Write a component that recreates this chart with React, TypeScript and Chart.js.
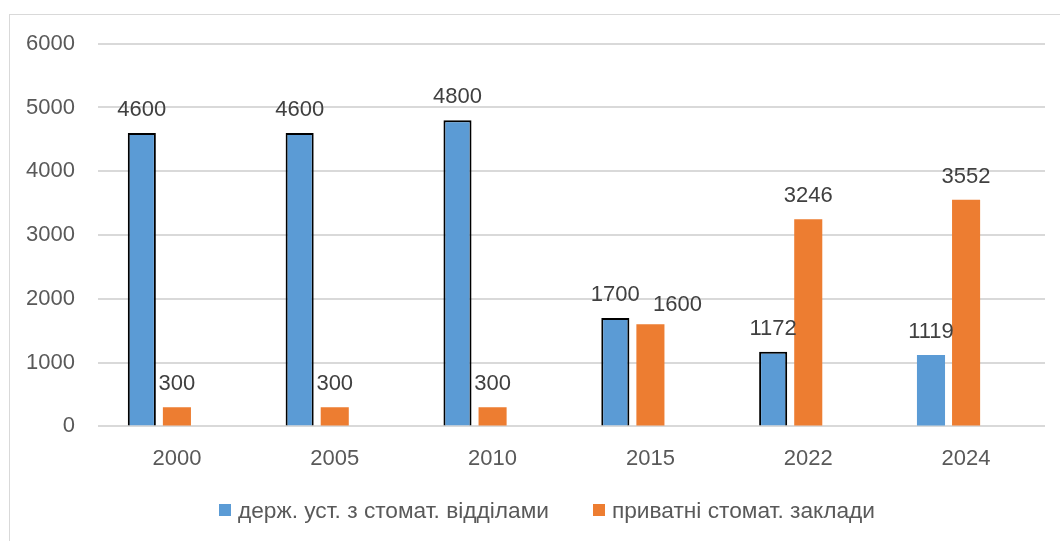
import React, { useEffect, useRef } from "react";
import { Chart, registerables } from "chart.js";

Chart.register(...registerables);

const categories = ["2000", "2005", "2010", "2015", "2022", "2024"];
const stateValues = [4600, 4600, 4800, 1700, 1172, 1119];
const privateValues = [300, 300, 300, 1600, 3246, 3552];
const emptySeries = [null, null, null, null, null, null];
const stateBorderWidths = [2, 2, 2, 2, 2, 0];
const seriesNames = ["держ. уст. з стомат. відділами", "приватні стомат. заклади"];
const seriesColors = ["#5B9BD5", "#ED7D31"];
const yMin = 0;
const yMax = 6000;
const yStep = 1000;

const FONT = "'Liberation Sans', Arial, sans-serif";
const FONT_SIZE = 22;

// label nudges (dataset index, category index) -> [dx, dy] in px, to avoid overlap
const labelNudges: Record<string, [number, number]> = { "1-3": [27, 4] };

const valueLabels = {
  id: "valueLabels",
  afterDatasetsDraw(chart: any) {
    const ctx = chart.ctx;
    ctx.save();
    ctx.font = `${FONT_SIZE}px ${FONT}`;
    ctx.fillStyle = "#404040";
    ctx.textAlign = "center";
    ctx.textBaseline = "alphabetic";
    [0, 1].forEach((di) => {
      const meta = chart.getDatasetMeta(di);
      const ds = chart.data.datasets[di];
      meta.data.forEach((el: any, i: number) => {
        const v = ds.data[i];
        if (v == null) return;
        const [dx, dy] = labelNudges[`${di}-${i}`] || [0, 0];
        ctx.fillText(String(v), el.x + dx, el.y - 17 + dy);
      });
    });
    ctx.restore();
  },
};

export default function App() {
  const ref = useRef<HTMLCanvasElement | null>(null);

  useEffect(() => {
    if (!ref.current) return;
    const chart = new Chart(ref.current, {
      type: "bar",
      data: {
        labels: categories,
        datasets: [
          {
            label: seriesNames[0],
            data: stateValues,
            backgroundColor: seriesColors[0],
            borderColor: "#000000",
            borderWidth: stateBorderWidths,
            borderSkipped: "start",
          },
          {
            label: seriesNames[1],
            data: privateValues,
            backgroundColor: seriesColors[1],
            borderWidth: 0,
          },
          {
            label: "",
            data: emptySeries as any,
            backgroundColor: "rgba(0,0,0,0)",
          },
        ],
      },
      options: {
        responsive: false,
        animation: false,
        devicePixelRatio: 1,
        datasets: {
          bar: {
            categoryPercentage: 0.667,
            barPercentage: 0.8,
          },
        },
        layout: {
          padding: { left: 0, right: 15, top: 43.7, bottom: 57.2 },
        },
        plugins: {
          legend: { display: false },
          tooltip: { enabled: false },
        },
        scales: {
          x: {
            grid: { display: false },
            border: { display: false },
            ticks: {
              color: "#595959",
              font: { family: FONT, size: FONT_SIZE },
              padding: 11.5,
              maxRotation: 0,
            },
          },
          y: {
            min: yMin,
            max: yMax,
            afterFit(scale: any) {
              scale.width = 98;
            },
            grid: {
              color: "#d9d9d9",
              lineWidth: 2,
              drawTicks: false,
            },
            border: { display: false },
            ticks: {
              stepSize: yStep,
              color: "#595959",
              font: { family: FONT, size: FONT_SIZE },
              padding: 23,
              callback: (v: any) => String(v),
            },
          },
        },
      },
      plugins: [valueLabels],
    });
    return () => chart.destroy();
  }, []);

  return (
    <div
      style={{
        position: "fixed",
        left: 0,
        top: 0,
        width: 1060,
        height: 541,
        overflow: "hidden",
        background: "#ffffff",
      }}
    >
      <div
        style={{
          position: "absolute",
          left: 9,
          top: 14,
          width: 1200,
          height: 700,
          border: "1.5px solid #d9d9d9",
        }}
      />
      <canvas
        ref={ref}
        width={1060}
        height={541}
        style={{ position: "absolute", left: 0, top: 0, width: 1060, height: 541 }}
      />
      <div
        style={{
          position: "absolute",
          left: 0,
          top: 499,
          width: 1094,
          height: 22,
          display: "flex",
          justifyContent: "center",
          alignItems: "center",
          gap: 44,
          fontFamily: FONT,
          fontSize: 22.7,
          lineHeight: "22px",
          color: "#595959",
        }}
      >
        {seriesNames.map((name, i) => (
          <div key={name} style={{ display: "flex", alignItems: "center" }}>
            <span
              style={{
                display: "inline-block",
                width: 12,
                height: 12,
                background: seriesColors[i],
                marginRight: 7,
              }}
            />
            <span style={{ whiteSpace: "nowrap" }}>{name}</span>
          </div>
        ))}
      </div>
    </div>
  );
}
